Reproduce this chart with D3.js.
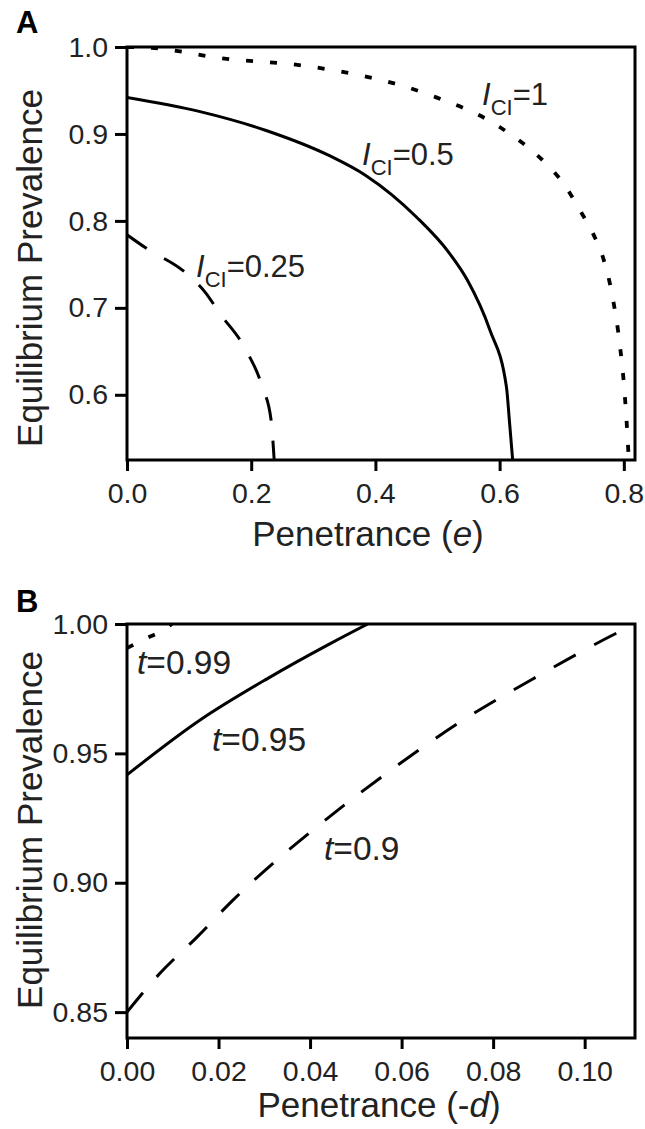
<!DOCTYPE html>
<html>
<head>
<meta charset="utf-8" />
<title>Equilibrium Prevalence vs Penetrance</title>
<script src="https://d3js.org/d3.v7.min.js"></script>
<style>
  body { margin: 0; background: #fff; }
  svg { display: block; font-family: "Liberation Sans", Arial, sans-serif; }
  .axis text { font-size: 28.5px; fill: #222; }
  .axis line { stroke: #000; stroke-width: 3; }
  .title { font-size: 35px; fill: #222; }
  .lab { fill: #222; }
</style>
</head>
<body>
<svg id="chart" width="645" height="1129"></svg>
<script>
// ---- Panel A data: prevalence vs penetrance (e) ----
const aXTicks = [0, 0.2, 0.4, 0.6, 0.8];
const aYTicks = [0.6, 0.7, 0.8, 0.9, 1.0];
const aCI1 = [[0,1.0],[0.04,0.999],[0.153,0.987],[0.30,0.977],[0.487,0.945],[0.60,0.908],[0.673,0.867],
  [0.705,0.841],[0.729,0.8125],[0.75,0.786],[0.766,0.759],[0.782,0.712],[0.794,0.655],[0.801,0.605],
  [0.806,0.551],[0.808,0.525]];
const aCI05 = [[0,0.942],[0.116,0.926],[0.224,0.904],[0.326,0.875],[0.385,0.852],[0.466,0.8045],
  [0.519,0.763],[0.548,0.732],[0.584,0.675],[0.611,0.609],[0.616,0.568],[0.621,0.525]];
const aCI025 = [[0,0.784],[0.03,0.769],[0.095,0.74],[0.127,0.717],[0.148,0.695],[0.192,0.651],
  [0.218,0.609],[0.232,0.571],[0.237,0.525]];

// ---- Panel B data: prevalence vs penetrance (-d) ----
const bXTicks = [0, 0.02, 0.04, 0.06, 0.08, 0.10];
const bYTicks = [0.85, 0.90, 0.95, 1.00];
const bT099 = [[0,0.9907],[0.004,0.9943],[0.0075,0.9972],[0.0098,1.0]];
const bT095 = [[0,0.9417],[0.0159,0.9628],[0.0306,0.9788],[0.0443,0.9923],[0.0526,1.0]];
const bT09 = [[0,0.85],[0.0072,0.865],[0.0153,0.879],[0.0231,0.8932],[0.0319,0.9075],[0.040,0.9195],
  [0.0567,0.9423],[0.0733,0.9627],[0.0902,0.9803],[0.107,0.9965],[0.111,1.0]];

const svg = d3.select("#chart");

function panel(cfg) {
  const x = d3.scaleLinear().domain(cfg.xDomain).range([127, 635]);
  const y = d3.scaleLinear().domain(cfg.yDomain).range([cfg.bottom, cfg.top]);
  const g = svg.append("g");

  g.append("clipPath").attr("id", cfg.id + "-clip")
    .append("rect")
    .attr("x", x.range()[0]).attr("y", cfg.top)
    .attr("width", x.range()[1] - x.range()[0])
    .attr("height", cfg.bottom - cfg.top);

  // axes
  const xa = g.append("g").attr("class", "axis")
    .attr("transform", `translate(0,${cfg.bottom})`)
    .call(d3.axisBottom(x).tickValues(cfg.xTicks).tickFormat(d3.format(cfg.xFmt))
      .tickSize(11).tickSizeOuter(0).tickPadding(12));
  const ya = g.append("g").attr("class", "axis")
    .attr("transform", "translate(127,0)")
    .call(d3.axisLeft(y).tickValues(cfg.yTicks).tickFormat(d3.format(cfg.yFmt))
      .tickSize(12).tickSizeOuter(0).tickPadding(7));
  xa.select(".domain").remove();
  ya.select(".domain").remove();

  // frame
  g.append("rect")
    .attr("x", x.range()[0]).attr("y", cfg.top)
    .attr("width", x.range()[1] - x.range()[0])
    .attr("height", cfg.bottom - cfg.top)
    .attr("fill", "none").attr("stroke", "#000").attr("stroke-width", 3);

  const line = d3.line().x(d => x(d[0])).y(d => y(d[1])).curve(d3.curveMonotoneX);

  cfg.series.forEach(s => {
    g.append("path")
      .attr("d", line(s.values))
      .attr("clip-path", `url(#${cfg.id}-clip)`)
      .attr("fill", "none")
      .attr("stroke", "#000")
      .attr("stroke-width", s.width)
      .attr("stroke-dasharray", s.dash);
  });

  // axis titles
  g.append("text").attr("class", "title")
    .attr("transform", `translate(42,${cfg.yTitleY}) rotate(-90)`)
    .attr("text-anchor", "middle")
    .text("Equilibrium Prevalence");
  const xt = g.append("text").attr("class", "title")
    .attr("x", cfg.xTitleX).attr("y", cfg.xTitleY)
    .attr("text-anchor", "middle");
  xt.append("tspan").text("Penetrance (" + cfg.xVarPre);
  xt.append("tspan").attr("font-style", "italic").text(cfg.xVar);
  xt.append("tspan").text(")");

  // panel letter
  g.append("text")
    .attr("x", 16).attr("y", cfg.letterY)
    .attr("font-size", 31).attr("font-weight", "bold")
    .text(cfg.letter);

  return { g, x, y };
}

const A = panel({
  id: "pa", letter: "A", letterY: 33,
  xDomain: [0, 0.818], yDomain: [0.525, 1.0], top: 47, bottom: 460,
  xTicks: aXTicks, yTicks: aYTicks, xFmt: ".1f", yFmt: ".1f",
  yTitleY: 268, xTitleX: 368, xTitleY: 546, xVarPre: "", xVar: "e",
  series: [
    { values: aCI1, dash: "7,17", width: 3.8 },
    { values: aCI05, dash: null, width: 3 },
    { values: aCI025, dash: "24,20", width: 3 }
  ]
});

const B = panel({
  id: "pb", letter: "B", letterY: 612,
  xDomain: [0, 0.111], yDomain: [0.84, 1.0], top: 624, bottom: 1038,
  xTicks: bXTicks, yTicks: bYTicks, xFmt: ".2f", yFmt: ".2f",
  yTitleY: 830, xTitleX: 379, xTitleY: 1117, xVarPre: "-", xVar: "d",
  series: [
    { values: bT099, dash: "7,17", width: 3.8 },
    { values: bT095, dash: null, width: 3 },
    { values: bT09, dash: "25,21", width: 3 }
  ]
});

// curve labels, panel A: I_CI = value
function iLabel(g, px, py, val) {
  const t = g.append("text").attr("class", "lab").attr("font-size", 31).attr("x", px).attr("y", py);
  t.append("tspan").attr("font-style", "italic").text("I");
  t.append("tspan").attr("font-size", 22).attr("dy", 10).text("CI");
  t.append("tspan").attr("dy", -10).text("=" + val);
}
iLabel(A.g, 482, 105, "1");
iLabel(A.g, 362, 165, "0.5");
iLabel(A.g, 196, 277, "0.25");

// curve labels, panel B: t = value
function tLabel(g, px, py, val) {
  const t = g.append("text").attr("class", "lab").attr("font-size", 33.5).attr("x", px).attr("y", py);
  t.append("tspan").attr("font-style", "italic").text("t");
  t.append("tspan").text("=" + val);
}
tLabel(B.g, 137, 674, "0.99");
tLabel(B.g, 212, 751, "0.95");
tLabel(B.g, 324, 860, "0.9");
</script>
</body>
</html>
